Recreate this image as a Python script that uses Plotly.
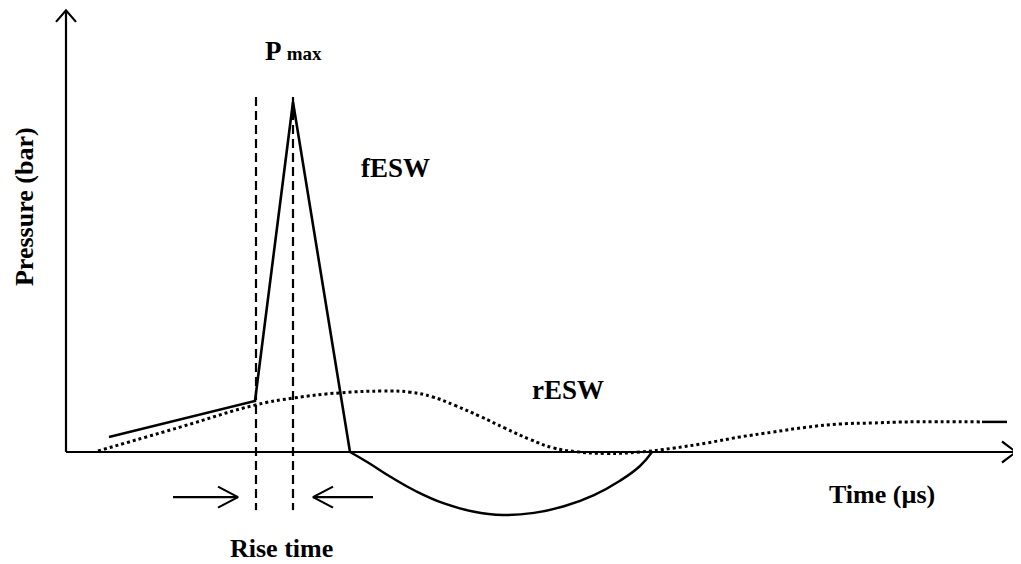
import plotly.graph_objects as go

# ---------------------------------------------------------------------------
# Schematic shock-wave pressure profile (arbitrary units)
# time in "µs" units, pressure in "bar" units
# ---------------------------------------------------------------------------
fesw_t = [4.3, 18.9, 22.7, 28.4]
fesw_p = [0.43, 1.46, 10.0, 0.0]

# negative phase of fESW (smooth arc under the axis)
arc_t = [28.4, 30.2, 32.4, 35.0, 37.8, 40.7, 43.7, 46.8, 49.8, 52.8, 55.4, 57.4, 58.6]
arc_p = [0.0, -0.30, -0.70, -1.12, -1.47, -1.70, -1.80, -1.74, -1.55, -1.23, -0.82, -0.40, 0.0]

resw_t = [3.2, 11.4, 18.9, 22.7, 27.4, 31.7, 34.4, 36.6, 38.9, 41.4, 43.9,
          46.4, 48.7, 51.0, 54.0, 57.4, 60.7, 64.1, 67.4, 70.7, 74.1, 77.4,
          80.7, 84.1, 91.4]
resw_p = [0.03, 0.71, 1.34, 1.54, 1.69, 1.74, 1.71, 1.58, 1.33, 1.02, 0.68,
          0.36, 0.12, 0.01, -0.04, 0.0, 0.11, 0.26, 0.43, 0.57, 0.71, 0.80,
          0.83, 0.86, 0.86]
resw_tail_t = [91.6, 94.1]
resw_tail_p = [0.86, 0.86]

# rise-time markers
rise_start, rise_end = 19.0, 22.7
marker_top, marker_bottom = 10.14, -1.66
arrow_p = -1.29

# axes extents
T_END = 95.0
P_END = 12.62
# the page body keeps its 8px margin, so the figure is 8px smaller and the
# ranges start 8px in
X_RANGE = [-5.8, 95.5]
Y_RANGE = [-3.2, 12.686]

INK = "#000000"
FONT = "Liberation Serif"

fig = go.Figure()


def line(xs, ys, width=2.5, dash="solid", shape="linear"):
    fig.add_trace(go.Scatter(
        x=xs, y=ys, mode="lines", hoverinfo="skip",
        line=dict(color=INK, width=width, dash=dash, shape=shape,
                  smoothing=1.3 if shape == "spline" else None),
    ))


# axes with open arrow heads
line([0, T_END], [0, 0], width=2.2)
line([T_END - 1.4, T_END, T_END - 1.4], [0.30, 0, -0.30], width=2.2)
line([0, 0], [0, P_END], width=2.2)
line([-1.0, 0, 1.0], [P_END - 0.33, P_END, P_END - 0.33], width=2.2)

# rise-time dashed guides
line([rise_start, rise_start], [marker_top, marker_bottom], width=2.2, dash="9px,5px")
line([rise_end, rise_end], [marker_top, marker_bottom], width=2.2, dash="9px,5px")

# rise-time arrows
line([10.7, 17.2], [arrow_p, arrow_p], width=2.2)
line([15.2, 17.2, 15.2], [arrow_p + 0.3, arrow_p, arrow_p - 0.3], width=2.2)
line([30.7, 24.7], [arrow_p, arrow_p], width=2.2)
line([26.7, 24.7, 26.7], [arrow_p + 0.3, arrow_p, arrow_p - 0.3], width=2.2)

# reflected wave (dotted)
line(resw_t, resw_p, width=3, dash="dot", shape="spline")
line(resw_tail_t, resw_tail_p, width=2.5)

# forward wave
line(fesw_t, fesw_p, width=2.6)
line(arc_t, arc_p, width=2.4, shape="spline")


def label(x, y, text, size=26, angle=0):
    fig.add_annotation(x=x, y=y, text=text, showarrow=False, textangle=angle,
                       font=dict(family=FONT, size=size, color=INK),
                       xanchor="center", yanchor="middle", borderpad=0)


label(22.7, 11.45, "<b>P <span style='font-size:19px'>max</span></b>", size=27)
label(32.9, 8.12, "<b>fESW</b>", size=27)
label(50.2, 1.78, "<b>rESW</b>", size=27)
label(81.6, -1.20, "<b>Time (µs)</b>", size=26)
label(21.5, -2.76, "<b>Rise time</b>", size=26)
label(-4.2, 7.0, "<b>Pressure (bar)</b>", size=26, angle=-90)

fig.update_xaxes(range=X_RANGE, visible=False, fixedrange=True)
fig.update_yaxes(range=Y_RANGE, visible=False, fixedrange=True)
fig.update_layout(
    width=1013, height=556,
    margin=dict(l=0, r=0, t=0, b=0),
    paper_bgcolor="white", plot_bgcolor="white",
    showlegend=False,
)

fig.write_html("out.html")
